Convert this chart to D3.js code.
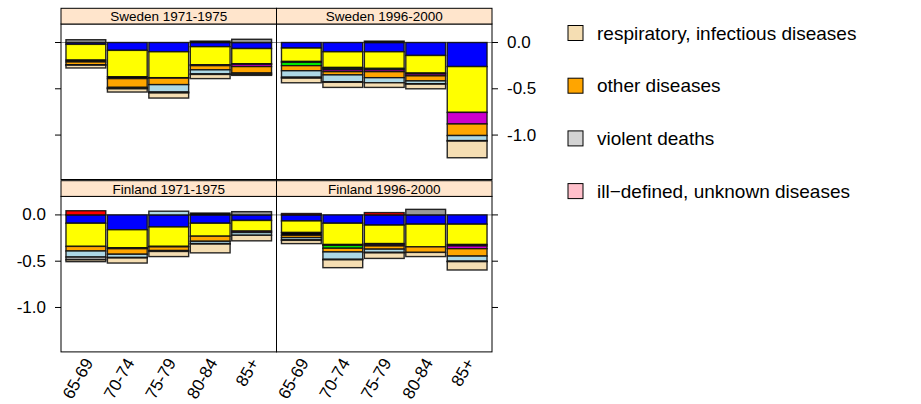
<!DOCTYPE html>
<html>
<head>
<meta charset="utf-8">
<script src="https://cdn.jsdelivr.net/npm/d3@7"></script>
<style>
  body { margin: 0; background: #fff; }
  text { font-family: 'Liberation Sans', Arial, sans-serif; fill: #000; }
</style>
</head>
<body>
<div id="chart"></div>
<script>
// DATA
const ageGroups = ['65-69', '70-74', '75-79', '80-84', '85+'];
const causes = ['c1', 'c2', 'c3', 'c4', 'c5', 'c6', 'c7', 'c8', 'c9', 'c10'];
const causeColors = ['#0000ff', '#ffff00', '#000000', '#00ff00', '#cc00cc',
  '#ff0000', '#ffa500', '#add8e6', '#9a9a9a', '#f5deb3'];

// one row per age group, one column per cause
const sweden1971 = [
  [-0.02, -0.17, -0.02, 0, 0, 0, -0.03, -0.005, 0.03, -0.03],
  [-0.085, -0.285, -0.02, 0, 0, 0, -0.095, -0.01, -0.005, -0.035],
  [-0.10, -0.28, -0.005, 0, 0, 0, -0.07, -0.08, -0.01, -0.055],
  [-0.045, -0.195, 0.015, 0, -0.01, 0, -0.045, -0.045, -0.005, -0.045],
  [-0.065, -0.165, -0.005, 0, -0.025, 0, -0.07, -0.015, 0.035, -0.01]
];
const sweden1996 = [
  [-0.06, -0.145, -0.01, -0.035, 0, 0, -0.055, -0.07, -0.01, -0.05],
  [-0.10, -0.17, -0.01, -0.015, -0.02, 0, -0.035, -0.075, -0.005, -0.055],
  [-0.10, -0.18, 0.015, -0.015, -0.02, 0, -0.065, -0.055, 0, -0.05],
  [-0.14, -0.19, -0.01, 0, -0.02, 0, -0.055, -0.03, -0.005, -0.05],
  [-0.26, -0.495, 0, 0, -0.125, 0, -0.125, -0.055, -0.005, -0.18]
];
const finland1971 = [
  [-0.09, -0.25, 0, 0, 0, 0.045, -0.05, -0.065, -0.03, -0.02],
  [-0.16, -0.195, -0.01, 0, 0, 0, -0.06, -0.035, -0.005, -0.055],
  [-0.13, -0.21, -0.005, 0, 0, 0, -0.04, 0.04, -0.01, -0.055],
  [-0.09, -0.14, 0.02, 0, 0, 0, -0.055, -0.025, -0.005, -0.095],
  [-0.06, -0.115, 0, 0, -0.015, 0, 0, -0.03, 0.035, -0.06]
];
const finland1996 = [
  [-0.065, -0.125, -0.03, 0, 0, 0.015, -0.025, -0.025, -0.005, -0.035],
  [-0.09, -0.23, -0.01, -0.03, 0, 0, -0.04, -0.08, -0.005, -0.085],
  [-0.11, -0.20, -0.01, 0, -0.015, 0.025, -0.035, -0.035, -0.005, -0.06],
  [-0.10, -0.245, 0, 0, 0, 0, -0.06, 0, 0.06, -0.045],
  [-0.10, -0.22, -0.015, 0, -0.03, 0, -0.08, -0.055, -0.005, -0.09]
];

const panelTitles = ['Sweden 1971-1975', 'Sweden 1996-2000', 'Finland 1971-1975', 'Finland 1996-2000'];
const panelData = [sweden1971, sweden1996, finland1971, finland1996];
const yTicks = [0, -0.5, -1.0];

const legendLabels = ['respiratory, infectious diseases', 'other diseases',
  'violent deaths', 'ill\u2212defined, unknown diseases'];
const legendColors = ['#f5deb3', '#ffa500', '#d3d3d3', '#ffc0cb'];

// LAYOUT
const W = 921, H = 404;
const left = 61, panelW = 215.5;
const stripH = 15.7;
const rowTop = [8.3, 180.7];   // top of strip for each row
const panelH = 155.5;
const tickLen = 6;

const svg = d3.select('#chart').append('svg')
  .attr('width', W).attr('height', H);

const xScale = d3.scaleBand()
  .domain(ageGroups)
  .range([0, panelW])
  .paddingInner(0.04)
  .paddingOuter(0.12);

const yScale = d3.scaleLinear()
  .domain([-1.48, 0.2])
  .range([panelH, 0]);

// plain hyphen like R, not the unicode minus
const yFormat = d => d3.format('.1f')(d).replace('\u2212', '-');

const stack = d3.stack()
  .keys(causes.map((c, i) => i))
  .offset(d3.stackOffsetDiverging);

panelData.forEach((rows, p) => {
  const col = p % 2;
  const row = p < 2 ? 0 : 1;
  const px = left + col * panelW;
  const py = rowTop[row] + stripH;

  const g = svg.append('g').attr('transform', `translate(${px},${py})`);

  // zero reference line
  g.append('line')
    .attr('x1', 0).attr('x2', panelW)
    .attr('y1', yScale(0)).attr('y2', yScale(0))
    .attr('stroke', '#8a8a8a').attr('stroke-width', 1);

  // stacked bars
  const series = stack(rows);
  series.forEach((s, k) => {
    g.selectAll(null)
      .data(s.map((d, i) => ({ y0: d[0], y1: d[1], age: ageGroups[i] }))
        .filter(d => d.y0 !== d.y1))
      .enter()
      .append('rect')
      .attr('x', d => xScale(d.age))
      .attr('width', xScale.bandwidth())
      .attr('y', d => yScale(Math.max(d.y0, d.y1)))
      .attr('height', d => Math.abs(yScale(d.y0) - yScale(d.y1)))
      .attr('fill', causeColors[k])
      .attr('stroke', '#111')
      .attr('stroke-opacity', 0.9)
      .attr('stroke-width', 1.4);
  });

  // panel frame
  g.append('rect')
    .attr('width', panelW).attr('height', panelH)
    .attr('fill', 'none').attr('stroke', '#000').attr('stroke-width', 1);

  // strip
  const strip = svg.append('g').attr('transform', `translate(${px},${rowTop[row]})`);
  strip.append('rect')
    .attr('width', panelW).attr('height', stripH)
    .attr('fill', '#ffe5cc').attr('stroke', '#000').attr('stroke-width', 1);
  strip.append('text')
    .attr('x', panelW / 2).attr('y', stripH / 2 + 0.5)
    .attr('text-anchor', 'middle')
    .attr('dominant-baseline', 'central')
    .style('font-size', '13.5px')
    .text(panelTitles[p]);

  // y ticks: left side on left column, right side on right column
  const tickX0 = col === 0 ? 0 : panelW;
  const dir = col === 0 ? -1 : 1;
  g.selectAll(null)
    .data(yTicks)
    .enter()
    .append('line')
    .attr('x1', tickX0).attr('x2', tickX0 + dir * tickLen)
    .attr('y1', d => yScale(d)).attr('y2', d => yScale(d))
    .attr('stroke', '#000');

  // alternating labels: bottom-left and top-right
  if ((row === 1 && col === 0) || (row === 0 && col === 1)) {
    g.selectAll(null)
      .data(yTicks)
      .enter()
      .append('text')
      .attr('x', tickX0 + dir * (tickLen + 9))
      .attr('y', d => yScale(d))
      .attr('dominant-baseline', 'central')
      .attr('text-anchor', col === 0 ? 'end' : 'start')
      .style('font-size', '17px')
      .text(yFormat);
  }

  // rotated age labels under bottom row
  if (row === 1) {
    g.selectAll(null)
      .data(ageGroups)
      .enter()
      .append('text')
      .attr('transform', d =>
        `translate(${xScale(d) + xScale.bandwidth() / 2 + 3},${panelH + 8}) rotate(-60)`)
      .attr('text-anchor', 'end')
      .attr('dominant-baseline', 'central')
      .style('font-size', '17px')
      .text(d => d);
  }
});

// LEGEND
const legend = svg.append('g').attr('transform', 'translate(568,33)');
legendLabels.forEach((lab, i) => {
  const item = legend.append('g').attr('transform', `translate(0,${i * 52.7})`);
  item.append('rect')
    .attr('x', 0).attr('y', -7.5)
    .attr('width', 15).attr('height', 15)
    .attr('fill', legendColors[i])
    .attr('stroke', '#000').attr('stroke-width', 1);
  item.append('text')
    .attr('x', 29).attr('y', 0)
    .attr('dominant-baseline', 'central')
    .style('font-size', '19px')
    .text(lab);
});
</script>
</body>
</html>
